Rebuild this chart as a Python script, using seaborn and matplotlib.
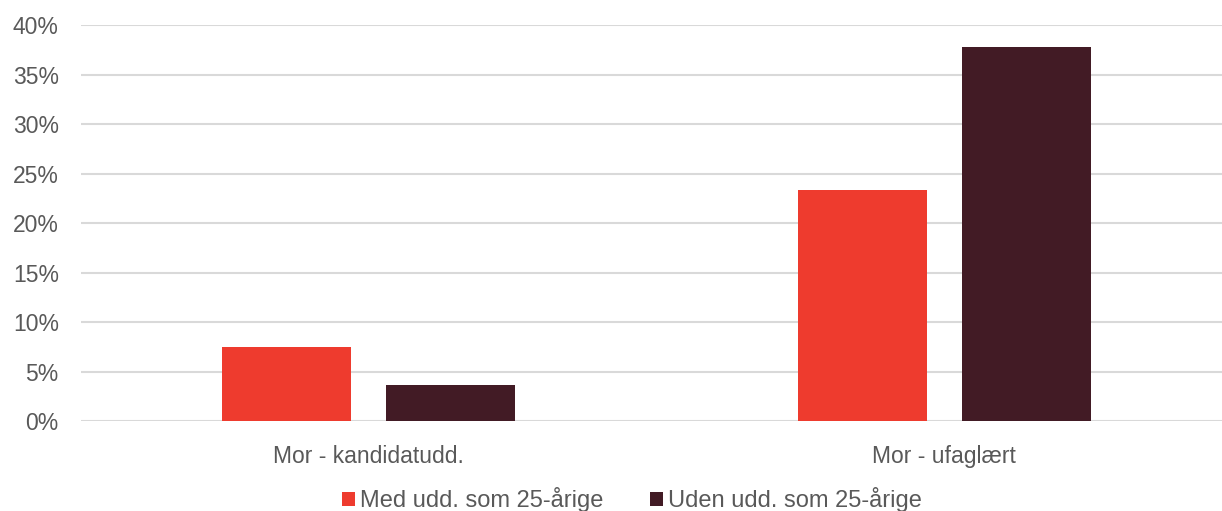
import matplotlib
matplotlib.use("Agg")
import matplotlib.pyplot as plt
import seaborn as sns
import pandas as pd
from matplotlib.ticker import PercentFormatter
from matplotlib.patches import Patch

categories = ["Mor - kandidatudd.", "Mor - ufaglært"]
series_names = ["Med udd. som 25-årige", "Uden udd. som 25-årige"]
med_values = [0.075, 0.233]
uden_values = [0.036, 0.378]
colors = ["#EE3B2E", "#421B25"]
yticks = [0, 0.05, 0.10, 0.15, 0.20, 0.25, 0.30, 0.35, 0.40]

df = pd.DataFrame({
    "cat": categories * 2,
    "series": [series_names[0]] * 2 + [series_names[1]] * 2,
    "val": med_values + uden_values,
})

sns.set_theme(style="white")
plt.rcParams["font.family"] = ["Liberation Sans", "DejaVu Sans"]

FS = 16.5
LFS = 17
fig = plt.figure(figsize=(12.22, 5.11), dpi=100)
ax = fig.add_axes([81 / 1222, 1 - 421 / 511, 1 - 81 / 1222, 396 / 511])

sns.barplot(data=df, x="cat", y="val", hue="series", palette=colors,
            width=0.5694, gap=0.213, ax=ax, legend=False, saturation=1,
            linewidth=0)

ax.set_ylim(0, 0.40)
ax.set_xlim(-0.4991, 1.482)
ax.set_yticks(yticks)
ax.yaxis.set_major_formatter(PercentFormatter(1.0, decimals=0))
ax.grid(axis="y", color="#D9D9D9", linewidth=1.5)
ax.set_axisbelow(True)
for s in ax.spines.values():
    s.set_visible(False)
ax.set_xlabel("")
ax.set_ylabel("")
ax.tick_params(axis="both", length=0, labelsize=FS, labelcolor="#595959")
ax.tick_params(axis="y", pad=16)
ax.tick_params(axis="x", pad=17)

handles = [Patch(facecolor=c, edgecolor="none") for c in colors]
fig.legend(handles, series_names, loc="center", bbox_to_anchor=(632 / 1222, 1 - 500 / 511),
           ncol=2, frameon=False, fontsize=LFS, labelcolor="#595959",
           handlelength=0.52, handleheight=0.52, handletextpad=0.22, columnspacing=2.0,
           borderpad=0.1)

fig.savefig("out.png", dpi=100, facecolor="white")
